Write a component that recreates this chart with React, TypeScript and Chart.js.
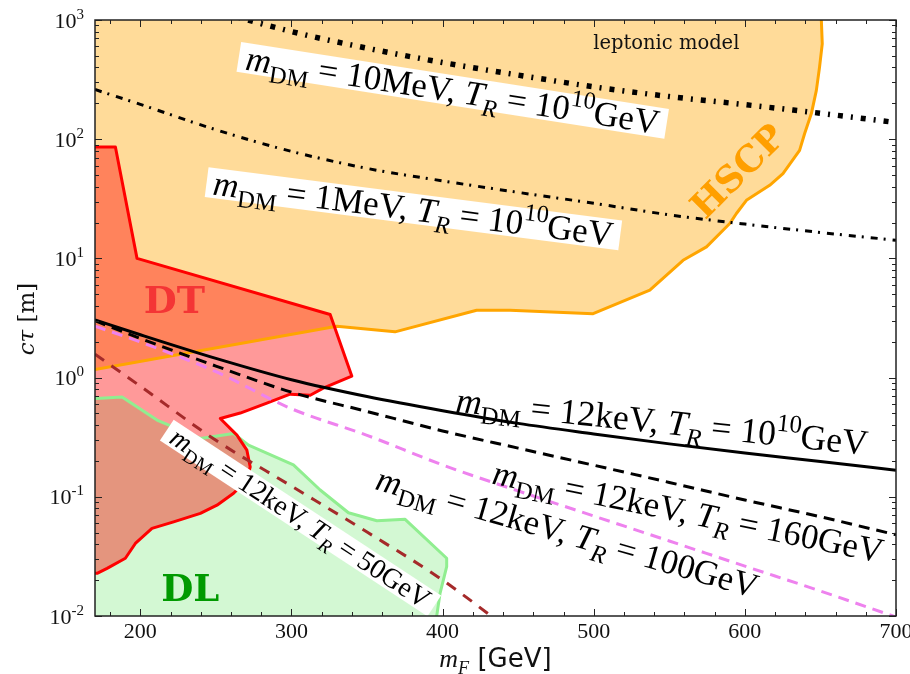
import React, { useEffect, useRef } from "react";
import { Chart, registerables } from "chart.js";

Chart.register(...registerables);

// ---------------- data ----------------
const massGrid = [170, 200, 250, 300, 350, 400, 450, 500, 550, 600, 650, 700];
const ctau_12keV_TR1e10 = [3.05, 2.29, 1.45, 0.96, 0.694, 0.528, 0.413, 0.337, 0.278, 0.233, 0.198, 0.167];
const ctau_12keV_TR160 = [3.0, 2.13, 1.25, 0.755, 0.52, 0.357, 0.256, 0.184, 0.132, 0.094, 0.068, 0.048];
const ctau_12keV_TR100 = [2.7, 1.99, 1.12, 0.548, 0.328, 0.185, 0.112, 0.069, 0.0426, 0.0262, 0.0162, 0.0098];
const massGrid50 = [170, 200, 250, 300, 350, 400, 450];
const ctau_12keV_TR50 = [1.57, 0.847, 0.298, 0.123, 0.0506, 0.02, 0.0067];
const ctau_1MeV_TR1e10 = [261, 196, 120, 79, 56.9, 44.7, 35.8, 29.0, 23.2, 19.4, 16.5, 14.2];
const ctau_10MeV_TR1e10 = [2600, 1950, 1200, 800, 580, 440, 345, 275, 228, 195, 165, 138];

// HSCP excluded region (closed outline)
const hscpMass = [165, 170, 330, 368.5, 422.5, 444.6, 499.6, 537.1, 559.1, 574.6, 590.0, 594.4, 601.0, 616.4, 625.2, 636.2, 639.5, 644.0, 647.3, 649.4, 651.2, 650.6, 650, 165, 165];
const hscpCtau = [1.15, 1.17, 2.7, 2.42, 3.67, 3.67, 3.44, 5.41, 9.64, 12.5, 19.6, 23.8, 30.7, 41.0, 51.4, 80.5, 111, 164, 257, 402, 631, 1000, 2000, 2000, 1.15];

// DT (displaced tracks) region
const dtMass = [165, 183.5, 197.8, 325.6, 339.9, 321, 312.4, 299.1, 283.7, 266.1, 252.9, 263.9, 270.5, 272.7, 270.5, 261.7, 250.7, 239.7, 222, 207.7, 196.7, 190.1, 178, 171.4, 165, 165];
const dtCtau = [85.9, 85.9, 10.0, 3.38, 1.03, 0.815, 0.711, 0.726, 0.61, 0.504, 0.454, 0.329, 0.246, 0.178, 0.138, 0.107, 0.085, 0.0727, 0.0616, 0.0543, 0.0406, 0.0305, 0.0251, 0.0228, 0.0228, 85.9];

// DL (displaced leptons) region
const dlMass = [165, 171, 187.9, 211.0, 239.7, 261.7, 271.6, 301.3, 319.0, 337.7, 356.5, 375.2, 402.7, 402.7, 398.3, 396.1, 395, 165, 165];
const dlCtau = [0.668, 0.668, 0.689, 0.44, 0.309, 0.34, 0.271, 0.185, 0.114, 0.0735, 0.063, 0.0647, 0.0305, 0.0259, 0.0155, 0.01, 0.005, 0.005, 0.668];

// axis ticks
const xTickValues = [200, 300, 400, 500, 600, 700];
const yTickExponents = [-2, -1, 0, 1, 2, 3];

// ---------------- text helpers ----------------
type Seg = [string, string];
const SERIF = '"Liberation Serif", "DejaVu Serif", serif';
const DJSERIF = '"DejaVu Serif", serif';

function segFont(style: string, fs: number, family: string = SERIF) {
  const small = style === "sr" || style === "si" || style === "su";
  const size = small ? fs * 0.7 : fs;
  if (style === "sans") return `${size}px "DejaVu Sans", sans-serif`;
  const italic = style === "i" || style === "si";
  return `${italic ? "italic " : ""}${size}px ${family}`;
}
function mathWidth(ctx: CanvasRenderingContext2D, segs: Seg[], fs: number, family: string = SERIF) {
  let w = 0;
  for (const [t, s] of segs) {
    ctx.font = segFont(s, fs, family);
    w += ctx.measureText(t).width;
  }
  return w;
}
function drawMath(ctx: CanvasRenderingContext2D, segs: Seg[], fs: number, x: number, y: number, family: string = SERIF) {
  let cx = x;
  ctx.textAlign = "left";
  ctx.textBaseline = "alphabetic";
  for (const [t, s] of segs) {
    ctx.font = segFont(s, fs, family);
    let dy = 0;
    if (s === "sr" || s === "si") dy = 0.25 * fs;
    if (s === "su") dy = -0.42 * fs;
    ctx.fillText(t, cx, y + dy);
    cx += ctx.measureText(t).width;
  }
}

const lab = (mdm: string, tr: Seg[]): Seg[] => [
  ["m", "i"], ["DM", "sr"], [` = ${mdm}, `, "r"], ["T", "i"], ["R", "si"], [" = ", "r"], ...tr,
];
const tr1e10: Seg[] = [["10", "r"], ["10", "su"], ["GeV", "r"]];

const curveLabels = [
  { segs: lab("10MeV", tr1e10), m: 406.7, ct: 257, angle: 8.9, len: 418, box: [433, 30] },
  { segs: lab("1MeV", tr1e10), m: 380.7, ct: 26.1, angle: 7.35, len: 403, box: [417, 30] },
  { segs: lab("12keV", tr1e10), m: 545.3, ct: 0.427, angle: 6, len: 414, box: null },
  { segs: lab("12keV", [["160GeV", "r"]]), m: 562.5, ct: 0.0748, angle: 11.5, len: 398, box: null },
  { segs: lab("12keV", [["100GeV", "r"]]), m: 482.6, ct: 0.0501, angle: 16, len: 396, box: null },
  { segs: lab("12keV", [["50GeV", "r"]]), m: 306.0, ct: 0.0664, angle: 33.3, len: 305, box: [320, 25] },
];

const zip = (xs: number[], ys: number[]) => xs.map((x, i) => ({ x, y: ys[i] }));

// ---------------- plugin: labels, ticks, frame, titles ----------------
const decorPlugin = {
  id: "decor",
  afterDatasetsDraw(chart: any) {
    const { ctx, chartArea: a, scales } = chart;
    const xs = scales.x, ys = scales.y;
    ctx.save();
    ctx.beginPath();
    ctx.rect(a.left, a.top, a.right - a.left, a.bottom - a.top);
    ctx.clip();

    for (const L of curveLabels) {
      const px = xs.getPixelForValue(L.m);
      const py = ys.getPixelForValue(L.ct);
      const w100 = mathWidth(ctx, L.segs, 100);
      const fs = (100 * L.len) / w100;
      ctx.save();
      ctx.translate(px, py);
      ctx.rotate((L.angle * Math.PI) / 180);
      if (L.box) {
        ctx.fillStyle = "#ffffff";
        ctx.fillRect(-L.box[0] / 2, -L.box[1] / 2, L.box[0], L.box[1]);
      }
      ctx.fillStyle = "#000000";
      drawMath(ctx, L.segs, fs, -L.len / 2, 0.33 * fs);
      ctx.restore();
    }

    // region names
    ctx.textBaseline = "alphabetic";
    ctx.textAlign = "left";
    ctx.font = `bold 38px ${DJSERIF}`;
    ctx.fillStyle = "#f43535";
    ctx.fillText("DT", xs.getPixelForValue(202.3), ys.getPixelForValue(3.47));
    ctx.font = `bold 37px ${DJSERIF}`;
    ctx.fillStyle = "#009a00";
    ctx.fillText("DL", xs.getPixelForValue(213.8), ys.getPixelForValue(0.0134));

    ctx.save();
    ctx.translate(xs.getPixelForValue(596.5), ys.getPixelForValue(52));
    ctx.rotate(-Math.PI / 4);
    ctx.textAlign = "center";
    ctx.textBaseline = "middle";
    ctx.font = `bold 36px ${DJSERIF}`;
    ctx.fillStyle = "#ff9f00";
    ctx.fillText("HSCP", 0, 0);
    ctx.restore();

    ctx.textAlign = "center";
    ctx.textBaseline = "alphabetic";
    ctx.font = `19.5px ${DJSERIF}`;
    ctx.fillStyle = "#111";
    ctx.fillText("leptonic model", xs.getPixelForValue(548), ys.getPixelForValue(570));
    ctx.restore();
  },
  afterDraw(chart: any) {
    const { ctx, chartArea: a, scales } = chart;
    const xs = scales.x, ys = scales.y;
    ctx.save();
    ctx.strokeStyle = "#222";
    ctx.lineWidth = 1;
    ctx.beginPath();
    // x ticks (inside, top and bottom)
    for (let v = 180; v <= 700; v += 20) {
      const major = v % 100 === 0;
      const len = major ? 7 : 4;
      const p = Math.round(xs.getPixelForValue(v)) + 0.5;
      ctx.moveTo(p, a.bottom);
      ctx.lineTo(p, a.bottom - len);
      ctx.moveTo(p, a.top);
      ctx.lineTo(p, a.top + len);
    }
    // y ticks (log, inside, left and right)
    for (const e of yTickExponents) {
      for (let k = 1; k <= 9; k++) {
        const v = k * Math.pow(10, e);
        if (v > 1000.0001) continue;
        const len = k === 1 ? 7 : 4;
        const p = Math.round(ys.getPixelForValue(v)) + 0.5;
        ctx.moveTo(a.left, p);
        ctx.lineTo(a.left + len, p);
        ctx.moveTo(a.right, p);
        ctx.lineTo(a.right - len, p);
      }
    }
    ctx.stroke();
    // frame
    ctx.lineWidth = 1.5;
    ctx.strokeStyle = "#222";
    ctx.strokeRect(a.left, a.top, a.right - a.left, a.bottom - a.top);

    // y tick labels 10^n
    ctx.fillStyle = "#111";
    ctx.textBaseline = "alphabetic";
    for (const e of yTickExponents) {
      const py = ys.getPixelForValue(Math.pow(10, e));
      const sup = e < 0 ? "-" + Math.abs(e) : String(e);
      ctx.font = `15px ${SERIF}`;
      const sw = ctx.measureText(sup).width;
      const right = a.left - 11;
      ctx.textAlign = "right";
      ctx.fillText(sup, right, py + 7.5 - 9);
      ctx.font = `22px ${SERIF}`;
      ctx.fillText("10", right - sw, py + 7.5);
    }

    // axis titles
    ctx.fillStyle = "#111";
    const ySegs: Seg[] = [["cτ", "i"], [" [m]", "r"]];
    const yfs = 23;
    const yw = mathWidth(ctx, ySegs, yfs, DJSERIF);
    ctx.save();
    ctx.translate(34, 319);
    ctx.rotate(-Math.PI / 2);
    drawMath(ctx, ySegs, yfs, -yw / 2, 0, DJSERIF);
    ctx.restore();

    const xSegs: Seg[] = [["m", "i"], ["F", "si"], [" [GeV]", "sans"]];
    const xfs = 26;
    const xw = mathWidth(ctx, xSegs, xfs);
    drawMath(ctx, xSegs, xfs, (a.left + a.right) / 2 - xw / 2, 667);
    ctx.restore();
  },
};

export default function App() {
  const ref = useRef<HTMLCanvasElement | null>(null);
  useEffect(() => {
    if (!ref.current) return;
    const common = { pointRadius: 0, pointHoverRadius: 0, showLine: true, clip: 0 };
    const curve = { ...common, fill: false, cubicInterpolationMode: "monotone" as const, borderCapStyle: "butt" as const };
    const region = { ...common, tension: 0, borderWidth: 3, fill: "shape" as const, borderJoinStyle: "round" as const };
    const chart = new Chart(ref.current, {
      type: "line",
      data: {
        datasets: [
          { ...curve, label: "12keV, 1e10", data: zip(massGrid, ctau_12keV_TR1e10), borderColor: "#000", borderWidth: 3 },
          { ...curve, label: "12keV, 160", data: zip(massGrid, ctau_12keV_TR160), borderColor: "#000", borderWidth: 3, borderDash: [11, 7] },
          { ...curve, label: "12keV, 100", data: zip(massGrid, ctau_12keV_TR100), borderColor: "#ee82ee", borderWidth: 3, borderDash: [11, 7] },
          { ...curve, label: "12keV, 50", data: zip(massGrid50, ctau_12keV_TR50), borderColor: "#a52a2a", borderWidth: 3, borderDash: [11, 9] },
          { ...curve, label: "1MeV", data: zip(massGrid, ctau_1MeV_TR1e10), borderColor: "#000", borderWidth: 3, borderDash: [7, 6, 2, 7] },
          { ...curve, label: "10MeV", data: zip(massGrid, ctau_10MeV_TR1e10), borderColor: "#000", borderWidth: 5.5, borderDash: [5, 8, 2, 8] },
          { ...region, label: "DT", data: zip(dtMass, dtCtau), borderColor: "#ff0000", backgroundColor: "rgba(255,0,0,0.4)" },
          { ...region, label: "HSCP", data: zip(hscpMass, hscpCtau), borderColor: "#ffa500", backgroundColor: "rgba(255,165,0,0.4)" },
          { ...region, label: "DL", data: zip(dlMass, dlCtau), borderColor: "#90ee90", backgroundColor: "rgba(144,238,144,0.4)" },
        ] as any,
      },
      options: {
        animation: false,
        responsive: false,
        devicePixelRatio: 1,
        events: [],
        layout: { padding: { left: 0, top: 20, right: 14, bottom: 0 } },
        plugins: {
          legend: { display: false },
          tooltip: { enabled: false },
          filler: { drawTime: "beforeDatasetsDraw" },
        } as any,
        scales: {
          x: {
            type: "linear",
            min: 170,
            max: 700,
            grid: { display: false, drawTicks: false },
            border: { display: false },
            ticks: {
              autoSkip: false,
              maxRotation: 0,
              padding: 3,
              color: "#111",
              font: { family: "Liberation Serif", size: 22 },
              callback: (v: any) => String(v),
            },
            afterBuildTicks: (s: any) => {
              s.ticks = xTickValues.map((value) => ({ value }));
            },
            afterFit: (s: any) => {
              s.height = 58;
              s.paddingLeft = 0;
              s.paddingRight = 0;
            },
          },
          y: {
            type: "logarithmic",
            min: 0.01,
            max: 1000,
            grid: { display: false, drawTicks: false },
            border: { display: false },
            ticks: { display: false },
            afterFit: (s: any) => {
              s.width = 95;
              s.paddingTop = 0;
              s.paddingBottom = 0;
            },
          },
        },
      } as any,
      plugins: [decorPlugin],
    });
    return () => chart.destroy();
  }, []);

  return (
    <div style={{ position: "fixed", left: 0, top: 0, width: 910, height: 674, background: "#fff" }}>
      <canvas ref={ref} width={910} height={674} style={{ width: 910, height: 674, display: "block" }} />
    </div>
  );
}
